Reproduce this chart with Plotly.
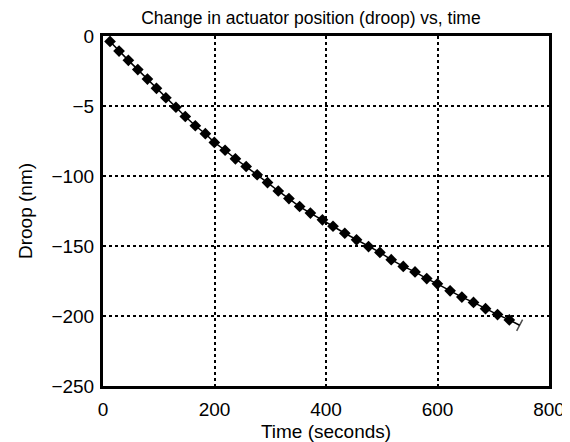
import plotly.graph_objects as go

time_s = [12.6, 28.8, 45.5, 62.4, 79.7, 95.9, 112.8, 130.8, 147.6, 165.6, 183.6, 199.7,
          219.0, 237.5, 256.8, 276.6, 295.1, 314.4, 333.5, 352.7, 372.0, 393.6,
          412.6, 433.7, 454.8, 476.3, 496.7, 517.0, 538.6, 559.7, 580.7, 599.8,
          622.6, 643.7, 664.6, 686.2, 707.7, 728.8]
droop_nm = [-3.9, -10.8, -17.4, -24.0, -30.8, -37.4, -44.1, -50.9, -57.5, -64.1, -69.8, -76.0,
            -81.6, -87.7, -93.2, -99.1, -104.7, -110.7, -116.1, -121.8, -126.5, -131.3,
            -135.9, -140.9, -145.6, -150.4, -154.6, -159.8, -164.6, -168.5, -173.3, -177.0,
            -182.0, -186.5, -190.3, -194.8, -199.0, -202.8]
end_time = [728.8, 747.3]
end_droop = [-202.8, -206.6]

x_ticks = [0, 200, 400, 600, 800]
x_ticklabels = ["0", "200", "400", "600", "800"]
y_ticks = [0, -50, -100, -150, -200, -250]
y_ticklabels = ["0", "\u22125", "\u2212100", "\u2212150", "\u2212200", "\u2212250"]

FONT = "Liberation Sans"
FS = 19

fig = go.Figure()
fig.add_trace(go.Scatter(
    x=end_time, y=end_droop, mode="lines+markers",
    line=dict(color="black", width=1.5),
    marker=dict(symbol=["circle", "line-ns"], size=[0, 9], angle=28,
                color="black", line=dict(color="black", width=1.5)),
    showlegend=False, hoverinfo="skip"))
fig.add_trace(go.Scatter(
    x=time_s, y=droop_nm, mode="lines+markers",
    line=dict(color="black", width=1.5),
    marker=dict(symbol="diamond", size=9, color="black"),
    showlegend=False))

axis_common = dict(
    showline=True, linecolor="black", linewidth=3, mirror=True,
    showgrid=True, gridcolor="black", gridwidth=2, griddash="dot",
    zeroline=False, automargin=False,
    ticks="outside", tickcolor="rgba(0,0,0,0)",
    tickfont=dict(family=FONT, size=FS, color="black"),
)

# page has an 8px body margin, so the figure is offset by 8px
fig.update_layout(
    width=562, height=434,
    paper_bgcolor="white", plot_bgcolor="white",
    margin=dict(l=95, r=21, t=28, b=56),
    font=dict(family=FONT, color="black"),
    title=dict(text="Change in actuator position (droop) vs, time",
               x=0.539, xanchor="center", xref="container",
               y=0.992, yanchor="top", yref="container",
               pad=dict(t=0, b=0),
               font=dict(family=FONT, size=17.5, color="black")),
    xaxis=dict(range=[0, 800], tickvals=x_ticks, ticktext=x_ticklabels, ticklen=4,
               title=dict(text="Time (seconds)", standoff=7,
                          font=dict(family=FONT, size=FS, color="black")),
               **axis_common),
    yaxis=dict(range=[-250, 0], tickvals=y_ticks, ticktext=y_ticklabels, ticklen=2,
               title=dict(text="Droop (nm)", standoff=14,
                          font=dict(family=FONT, size=FS, color="black")),
               **axis_common),
)

fig.write_html("out.html")
